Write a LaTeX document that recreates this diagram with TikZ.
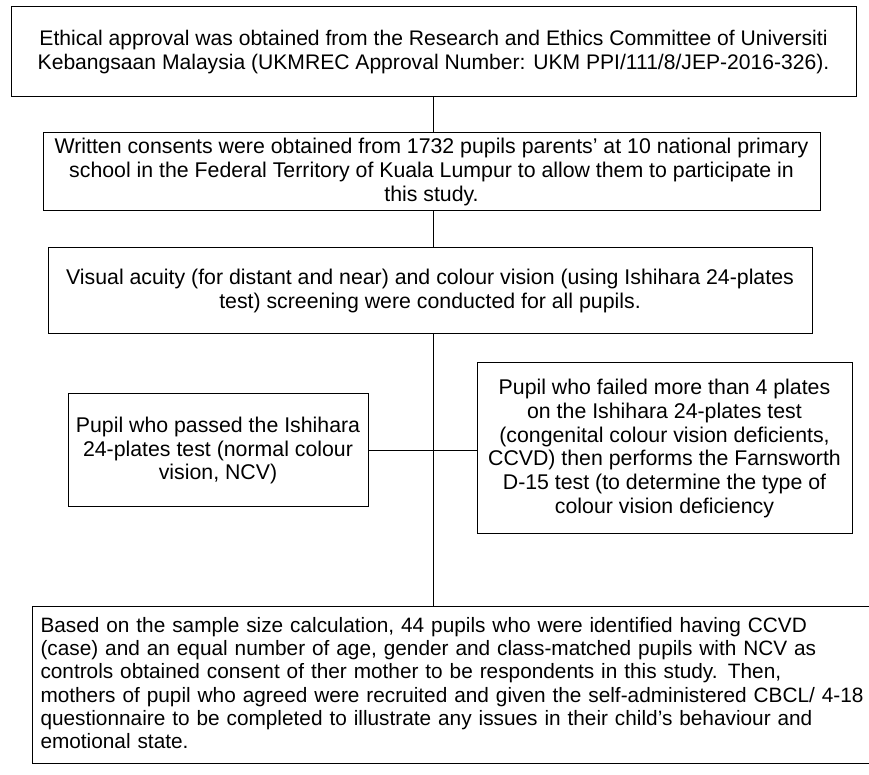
\documentclass[tikz,border=0pt]{standalone}
\usepackage{fontspec}
\setmainfont{Liberation Sans}
\usepackage{tikz}

\begin{document}
\begin{tikzpicture}[x=1pt, y=1pt, line width=1pt,
		stage/.style={draw, align=center, inner sep=1pt, font=\fontsize{21.3}{23.8}\selectfont},
		note/.style={draw, align=left, text width=880pt, inner xsep=8pt, inner ysep=11pt, text depth=120pt, font=\fontsize{20.8}{23.2}\selectfont}]
		\useasboundingbox (0,0) rectangle (869,775);
		\clip (0,0) rectangle (869,775);
		\node[stage, font=\fontsize{21.1}{23.2}\selectfont, minimum width=845pt, minimum height=90pt] (ethics) at (433.5,723) {Ethical approval was obtained from the Research and Ethics Committee of Universiti\\Kebangsaan Malaysia (UKMREC Approval Number: UKM PPI/111/8/JEP-2016-326).};
		\node[stage, minimum width=777pt, minimum height=78pt] (consent) at (431.5,603) {Written consents were obtained from 1732 pupils parents’ at 10 national primary\\school in the Federal Territory of Kuala Lumpur to allow them to participate in\\this study.};
		\node[stage, minimum width=764pt, minimum height=86pt] (screen) at (430,484) {Visual acuity (for distant and near) and colour vision (using Ishihara 24-plates\\test) screening were conducted for all pupils.};
		\node[stage, minimum width=300pt, minimum height=113pt] (ncv) at (218,324.5) {Pupil who passed the Ishihara\\24-plates test (normal colour\\vision, NCV)};
		\node[stage, minimum width=375pt, minimum height=171pt] (ccvd) at (664.5,326.5) {Pupil who failed more than 4 plates\\on the Ishihara 24-plates test\\(congenital colour vision deficients,\\CCVD) then performs the Farnsworth\\D-15 test (to determine the type of\\colour vision deficiency};
		\node[note, anchor=north west] (sample) at (32,169) {Based on the sample size calculation, 44 pupils who were identified having CCVD\\(case) and an equal number of age, gender and class-matched pupils with NCV as\\controls obtained consent of ther mother to be respondents in this study. Then,\\mothers of pupil who agreed were recruited and given the self-administered CBCL/ 4-18\\questionnaire to be completed to illustrate any issues in their child’s behaviour and\\emotional state.};

		\draw (ethics.south -| 433,0) -- (consent.north -| 433,0);
		\draw (consent.south -| 433,0) -- (screen.north -| 433,0);
		\draw (screen.south -| 433,0) -- (sample.north -| 433,0);
		\draw (ncv.east) -- (ncv.east -| ccvd.west);
	\end{tikzpicture}
\end{document}
